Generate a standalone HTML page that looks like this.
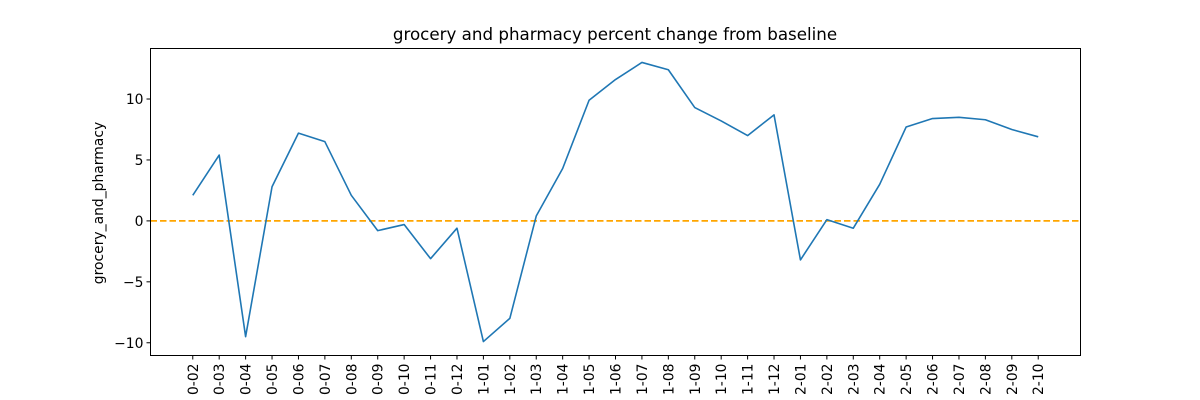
<!DOCTYPE html>
<html><head><meta charset="utf-8"><style>
body{margin:0;background:#fff;}
svg{display:block;font-family:"DejaVu Sans","Liberation Sans",sans-serif;}
</style></head><body>
<svg id="chart" width="1200" height="400" xmlns="http://www.w3.org/2000/svg">
<rect width="1200" height="400" fill="#fff"/>
<text x="615" y="40" text-anchor="middle" font-size="16.7">grocery and pharmacy percent change from baseline</text>
<text transform="translate(103,203) rotate(-90)" text-anchor="middle" font-size="13.9">grocery_and_pharmacy</text>
<g id="plot"></g>
</svg>
<script>
const categories=["0-02","0-03","0-04","0-05","0-06","0-07","0-08","0-09","0-10","0-11","0-12","1-01","1-02","1-03","1-04","1-05","1-06","1-07","1-08","1-09","1-10","1-11","1-12","2-01","2-02","2-03","2-04","2-05","2-06","2-07","2-08","2-09","2-10"];
const values=[2.1,5.4,-9.5,2.8,7.2,6.5,2.1,-0.8,-0.3,-3.1,-0.6,-9.9,-8.0,0.4,4.3,9.9,11.6,13.0,12.4,9.3,8.2,7.0,8.7,-3.2,0.1,-0.6,3.0,7.7,8.4,8.5,8.3,7.5,6.9];
const yTicks=[-10,-5,0,5,10];
const baseline=0;
const NS="http://www.w3.org/2000/svg";
const L=150.5,R=1080.5,T=48.5,B=355.5;
const n=categories.length;
const xmin=-0.05*(n-1),xmax=(n-1)*1.05;
const vmin=Math.min(...values),vmax=Math.max(...values),pad=(vmax-vmin)*0.05;
const ymin=vmin-pad,ymax=vmax+pad;
const x=i=>L+(i-xmin)/(xmax-xmin)*(R-L);
const y=v=>B-(v-ymin)/(ymax-ymin)*(B-T);
const g=document.getElementById('plot');
function mk(tag,attrs){const e=document.createElementNS(NS,tag);for(const k in attrs)e.setAttribute(k,attrs[k]);g.appendChild(e);return e;}
categories.forEach((c,i)=>{
  const t=mk('line',{x1:x(i),x2:x(i),y1:B,y2:B+4,stroke:'#000'});
  
  
  const lb=mk('text',{transform:`translate(${x(i)+5},${B+8}) rotate(-90)`,'text-anchor':'end','font-size':'13.9'});
  
  
  lb.textContent=c;
});
yTicks.forEach(v=>{
  const t=mk('line',{x1:L-4,x2:L,y1:y(v),y2:y(v),stroke:'#000'});
  
  
  const lb=mk('text',{x:L-7,y:y(v)+5,'text-anchor':'end','font-size':'13.9'});
  
  
  lb.textContent=v<0?'\u2212'+Math.abs(v):String(v);
});
const bl=mk('line',{x1:L,x2:R,y1:y(baseline),y2:y(baseline),stroke:'orange','stroke-width':1.8,'stroke-dasharray':'6.5,3'});


const p=mk('polyline',{points:values.map((v,i)=>x(i)+','+y(v)).join(' '),fill:'none',stroke:'#1f77b4','stroke-width':1.6,'stroke-linejoin':'round'});


const fr=mk('rect',{x:L,y:T,width:R-L,height:B-T,fill:'none',stroke:'#000','stroke-width':1});


</script>
</body></html>
